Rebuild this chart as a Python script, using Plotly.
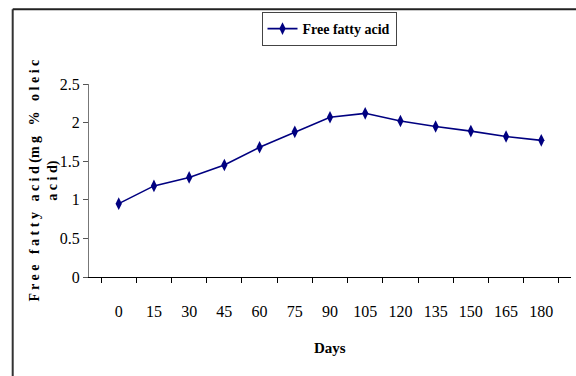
import plotly.graph_objects as go

# Storage period (days) and free fatty acid content (mg % oleic acid)
days = [0, 15, 30, 45, 60, 75, 90, 105, 120, 135, 150, 165, 180]
ffa = [0.95, 1.18, 1.29, 1.45, 1.68, 1.88, 2.07, 2.12, 2.02, 1.95, 1.89, 1.82, 1.77]
series_name = "Free fatty acid"

SERIF = "Liberation Serif, Times New Roman, serif"
NAVY = "#000080"

# plot area in pixels: left 89, right 571, top 84, bottom 277
L, R, T, B = 89, 571, 84, 277
W, H = 576, 376
pw, ph = R - L, B - T


def px_x(x):
    return (x - L) / pw


def px_y(y):
    return (B - y) / ph


fig = go.Figure()
fig.add_trace(go.Scatter(
    x=[str(d) for d in days],
    y=ffa,
    mode="lines+markers",
    name=series_name,
    line=dict(color=NAVY, width=1.6),
    marker=dict(symbol="diamond-tall", size=9, color=NAVY),
))

fig.update_layout(
    width=W,
    height=H,
    margin=dict(l=L, r=W - R, t=T, b=H - B),
    paper_bgcolor="white",
    plot_bgcolor="white",
    showlegend=True,
    legend=dict(
        x=px_x(329), y=px_y(12), xanchor="center", yanchor="top",
        bordercolor="#444", borderwidth=1, bgcolor="white",
        font=dict(family=SERIF, size=14, color="black", weight="bold"),
        itemwidth=30, tracegroupgap=0,
    ),
    xaxis=dict(
        type="category",
        tickson="boundaries",
        ticks="outside", ticklen=5, tickcolor="black",
        showline=True, linecolor="black", linewidth=1,
        showgrid=False, zeroline=False,
        tickfont=dict(family=SERIF, size=16, color="black"),
        ticklabelstandoff=20,
    ),
    yaxis=dict(
        range=[0, 2.5], dtick=0.5,
        ticks="outside", ticklen=5, tickcolor="#555",
        showline=True, linecolor="#777", linewidth=1,
        showgrid=False, zeroline=False,
        tickfont=dict(family=SERIF, size=16, color="black"),
    ),
    annotations=[
        dict(
            text="Days", xref="paper", yref="paper",
            x=0.5, y=px_y(348), xanchor="center", yanchor="middle",
            showarrow=False,
            font=dict(family=SERIF, size=15, color="black", weight="bold"),
        ),
        dict(
            text="F r e e\u00a0\u00a0 f a t t y\u00a0\u00a0 a c i d\u00a0(m g\u00a0\u00a0 %\u00a0\u00a0 o l e i c<br>a c i d)",
            xref="paper", yref="paper",
            x=px_x(43.5), y=px_y(181), xanchor="center", yanchor="middle",
            textangle=-90, showarrow=False,
            font=dict(family=SERIF, size=14, color="black", weight="bold"),
        ),
    ],
    shapes=[
        # outer chart frame (left and top edges)
        dict(type="line", xref="paper", yref="paper",
             x0=px_x(12.7), x1=px_x(12.7), y0=px_y(9.3), y1=px_y(400),
             line=dict(color="#333", width=2)),
        dict(type="line", xref="paper", yref="paper",
             x0=px_x(12.7), x1=px_x(600), y0=px_y(9.3), y1=px_y(9.3),
             line=dict(color="#222", width=2)),
    ],
)

fig.write_html("out.html")
